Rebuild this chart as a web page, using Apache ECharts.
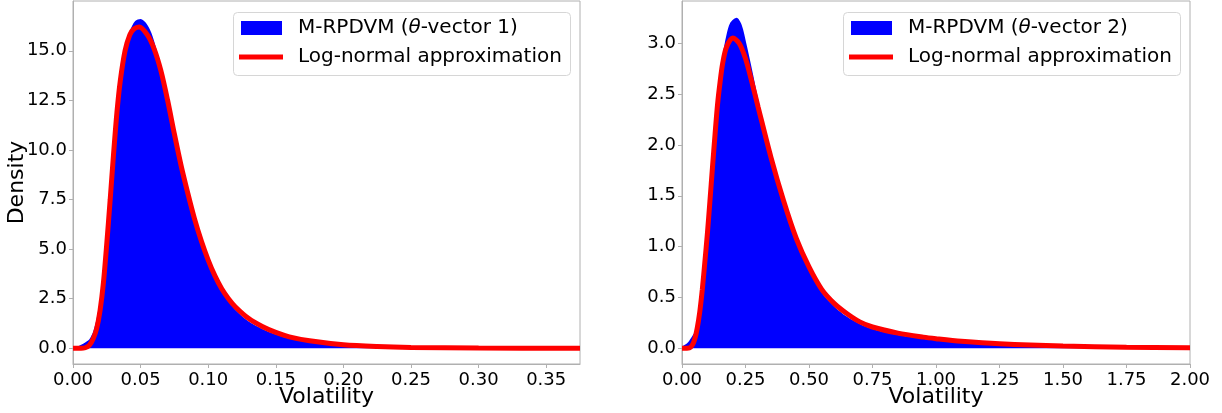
<!DOCTYPE html>
<html>
<head>
<meta charset="utf-8">
<script src="https://cdn.jsdelivr.net/npm/echarts@6/dist/echarts.min.js"></script>
<style>
  html, body { margin: 0; padding: 0; background: #fff; }
  #chart { width: 1222px; height: 413px; }
</style>
</head>
<body>
<div id="chart"></div>
<script>
// panel 1 (theta-vector 1)
var histX1 = [0, 0.003, 0.006, 0.009, 0.012, 0.015, 0.0175, 0.02, 0.0225, 0.025, 0.0275, 0.03, 0.0325, 0.035, 0.0385, 0.042, 0.046, 0.05, 0.054, 0.058, 0.062, 0.066, 0.07, 0.075, 0.08, 0.085, 0.09, 0.095, 0.1, 0.105, 0.11, 0.115, 0.12, 0.13, 0.14, 0.15, 0.16, 0.175, 0.2, 0.225, 0.25, 0.3, 0.375];
var histY1 = [0.02, 0.08, 0.18, 0.3, 0.45, 0.85, 1.5, 2.5, 3.8, 5.6, 7.8, 10.0, 12.0, 13.6, 15.2, 16.0, 16.5, 16.6, 16.4, 15.9, 15.0, 13.9, 12.5, 10.8, 9.2, 7.8, 6.5, 5.4, 4.4, 3.6, 2.95, 2.4, 1.95, 1.35, 0.98, 0.7, 0.5, 0.32, 0.15, 0.075, 0.035, 0.01, 0.002];
var lognX1 = [0, 0.006, 0.009, 0.012, 0.015, 0.0175, 0.02, 0.0225, 0.025, 0.0275, 0.03, 0.0325, 0.035, 0.0385, 0.042, 0.045, 0.049, 0.055, 0.06, 0.065, 0.07, 0.075, 0.08, 0.085, 0.09, 0.095, 0.1, 0.105, 0.11, 0.115, 0.12, 0.13, 0.14, 0.15, 0.16, 0.175, 0.2, 0.225, 0.25, 0.3, 0.375];
var lognY1 = [0, 0, 0.03, 0.15, 0.5, 1.0, 1.9, 3.3, 5.3, 7.5, 9.8, 11.9, 13.5, 15.0, 15.8, 16.1, 16.2, 15.8, 15.1, 14.0, 12.5, 10.8, 9.2, 7.8, 6.5, 5.4, 4.45, 3.65, 3.0, 2.5, 2.1, 1.5, 1.1, 0.8, 0.58, 0.38, 0.18, 0.09, 0.045, 0.012, 0.002];
var xTicks1 = [0, 0.05, 0.1, 0.15, 0.2, 0.25, 0.3, 0.35];
var yTicks1 = [0, 2.5, 5, 7.5, 10, 12.5, 15];

// panel 2 (theta-vector 2)
var histX2 = [0, 0.02, 0.035, 0.05, 0.06, 0.07, 0.08, 0.09, 0.1, 0.11, 0.12, 0.13, 0.14, 0.15, 0.16, 0.175, 0.19, 0.215, 0.235, 0.253, 0.275, 0.3, 0.35, 0.4, 0.45, 0.5, 0.55, 0.6, 0.65, 0.7, 0.75, 0.85, 0.95, 1.0, 1.1, 1.25, 1.5, 1.75, 2.0];
var histY2 = [0.02, 0.05, 0.1, 0.16, 0.25, 0.4, 0.62, 0.88, 1.15, 1.47, 1.8, 2.12, 2.42, 2.67, 2.88, 3.08, 3.2, 3.25, 3.18, 3.0, 2.75, 2.45, 1.92, 1.45, 1.06, 0.77, 0.55, 0.41, 0.31, 0.24, 0.19, 0.13, 0.095, 0.08, 0.06, 0.035, 0.015, 0.006, 0.003];
var lognX2 = [0, 0.03, 0.04, 0.05, 0.06, 0.07, 0.08, 0.09, 0.1, 0.11, 0.12, 0.13, 0.14, 0.15, 0.16, 0.175, 0.2, 0.225, 0.25, 0.275, 0.3, 0.35, 0.4, 0.45, 0.5, 0.55, 0.6, 0.65, 0.7, 0.75, 0.85, 0.95, 1.0, 1.1, 1.25, 1.5, 1.75, 2.0];
var lognY2 = [0, 0.005, 0.03, 0.09, 0.2, 0.36, 0.58, 0.85, 1.13, 1.45, 1.78, 2.1, 2.4, 2.62, 2.8, 2.96, 3.05, 3.0, 2.85, 2.62, 2.37, 1.88, 1.45, 1.08, 0.8, 0.58, 0.44, 0.34, 0.26, 0.21, 0.15, 0.11, 0.095, 0.07, 0.045, 0.022, 0.011, 0.006];
var xTicks2 = [0, 0.25, 0.5, 0.75, 1, 1.25, 1.5, 1.75, 2];
var yTicks2 = [0, 0.5, 1, 1.5, 2, 2.5, 3];

var histName1 = 'M-RPDVM (θ-vector 1)';
var histName2 = 'M-RPDVM (θ-vector 2)';
var lognName = 'Log-normal approximation';

function zip(xs, ys) {
    return xs.map(function (x, i) { return [x, ys[i]]; });
}

var font = 'DejaVu Sans';
var spine = '#b0b0b0';

function xAxis(idx, max, ticks, digits) {
    return {
        type: 'value',
        gridIndex: idx,
        min: 0,
        max: max,
        name: 'Volatility',
        nameLocation: 'middle',
        nameGap: 22,
        nameMoveOverlap: false,
        nameTextStyle: { fontFamily: font, fontSize: 22, color: '#000' },
        axisLine: { onZero: false, lineStyle: { color: spine } },
        axisTick: { length: 4, lineStyle: { color: spine }, customValues: ticks },
        axisLabel: {
            fontFamily: font, fontSize: 18, color: '#000', margin: 7,
            customValues: ticks,
            formatter: function (v) { return v.toFixed(digits); }
        },
        splitLine: { show: false }
    };
}

function yAxis(idx, min, max, ticks, withName) {
    return {
        type: 'value',
        gridIndex: idx,
        min: min,
        max: max,
        name: withName ? 'Density' : '',
        nameLocation: 'middle',
        nameGap: 45,
        nameMoveOverlap: false,
        nameTextStyle: { fontFamily: font, fontSize: 22, color: '#000' },
        axisLine: { show: true, lineStyle: { color: spine } },
        axisTick: { show: true, length: 4, lineStyle: { color: spine }, customValues: ticks },
        axisLabel: {
            fontFamily: font, fontSize: 18, color: '#000', margin: 6,
            customValues: ticks,
            formatter: function (v) { return v.toFixed(1); }
        },
        splitLine: { show: false }
    };
}

function histSeries(name, idx, xs, ys) {
    return {
        name: name,
        type: 'line',
        xAxisIndex: idx,
        yAxisIndex: idx,
        data: zip(xs, ys),
        smooth: 0.3,
        showSymbol: false,
        itemStyle: { color: '#0000ff' },
        lineStyle: { width: 0, color: '#0000ff' },
        areaStyle: { color: '#0000ff', opacity: 1 },
        z: 2,
        silent: true
    };
}

function lognSeries(idx, xs, ys) {
    return {
        name: lognName,
        type: 'line',
        xAxisIndex: idx,
        yAxisIndex: idx,
        data: zip(xs, ys),
        smooth: 0.3,
        showSymbol: false,
        itemStyle: { color: '#ff0000' },
        lineStyle: { width: 5, color: '#ff0000' },
        z: 3,
        silent: true
    };
}

var richText = {
    n: { fontFamily: font, fontSize: 20, color: '#000' },
    i: { fontFamily: font, fontSize: 20, fontStyle: 'italic', color: '#000' }
};

function histLegend(name, left) {
    return {
        data: [name],
        left: left,
        top: 17,
        z: 6,
        padding: 0,
        icon: 'rect',
        itemWidth: 41,
        itemHeight: 14,
        selectedMode: false,
        formatter: function (n) {
            var parts = n.split('θ');
            return '{n|' + parts[0] + '}{i|θ}{n|' + parts[1] + '}';
        },
        textStyle: { padding: [0, 0, 0, 11], lineHeight: 22, rich: richText }
    };
}

function lognLegend(left) {
    return {
        data: [lognName],
        left: left,
        top: 46,
        z: 6,
        padding: 0,
        icon: 'rect',
        itemWidth: 44,
        itemHeight: 5,
        selectedMode: false,
        textStyle: { fontFamily: font, fontSize: 20, color: '#000', padding: [0, 0, 0, 10], lineHeight: 22 }
    };
}

function legendBox(left) {
    return {
        type: 'rect',
        left: left,
        top: 12,
        z: 5,
        shape: { width: 337, height: 63, r: 4 },
        style: { fill: 'rgba(255,255,255,0.8)', stroke: '#d6d6d6', lineWidth: 1 }
    };
}

var chart = echarts.init(document.getElementById('chart'));
chart.setOption({
    animation: false,
    backgroundColor: '#fff',
    grid: [
        { left: 73, top: 1, width: 507, height: 363, outerBoundsMode: 'none', show: true, borderColor: spine, borderWidth: 1, backgroundColor: 'transparent' },
        { left: 682, top: 1, width: 508, height: 363, outerBoundsMode: 'none', show: true, borderColor: spine, borderWidth: 1, backgroundColor: 'transparent' }
    ],
    xAxis: [
        xAxis(0, 0.375, xTicks1, 2),
        xAxis(1, 2.0, xTicks2, 2)
    ],
    yAxis: [
        yAxis(0, -0.79, 17.51, yTicks1, true),
        yAxis(1, -0.154, 3.415, yTicks2, false)
    ],
    legend: [
        histLegend(histName1, 241),
        lognLegend(239),
        histLegend(histName2, 851),
        lognLegend(849)
    ],
    graphic: [legendBox(233), legendBox(843)],
    series: [
        histSeries(histName1, 0, histX1, histY1),
        lognSeries(0, lognX1, lognY1),
        histSeries(histName2, 1, histX2, histY2),
        lognSeries(1, lognX2, lognY2)
    ]
});
</script>
</body>
</html>
